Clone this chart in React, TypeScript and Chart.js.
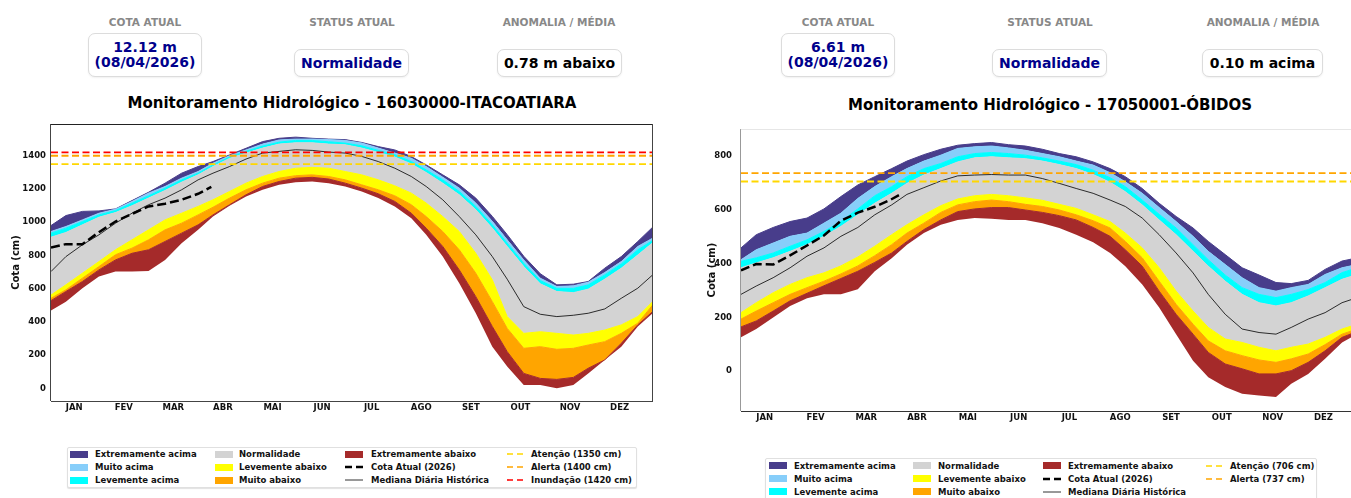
import React, { useEffect, useRef } from 'react';
import { Chart, registerables } from 'chart.js';

Chart.register(...registerables);

const FONT = '"DejaVu Sans", sans-serif';

// ---------- shared axis data ----------
const DAYS = [1, 10, 20, 30, 40, 50, 60, 70, 80, 90, 99, 109, 119, 129, 139, 149, 159, 169, 179, 189, 199, 209, 219, 228, 238, 248, 258, 268, 277, 287, 297, 307, 317, 326, 336, 346, 356, 365];
const MONTHS = ['JAN', 'FEV', 'MAR', 'ABR', 'MAI', 'JUN', 'JUL', 'AGO', 'SET', 'OUT', 'NOV', 'DEZ'];
const MONTH_TICK_DAYS = [15, 45, 75, 105, 135, 165, 195, 225, 255, 285, 315, 345];

// ---------- ITACOATIARA (cm) ----------
const ITA_MAX = [980, 1040, 1065, 1068, 1080, 1130, 1180, 1235, 1295, 1335, 1365, 1405, 1445, 1485, 1505, 1512, 1505, 1500, 1497, 1480, 1455, 1435, 1395, 1345, 1285, 1225, 1145, 1035, 925, 795, 690, 623, 627, 643, 723, 793, 884, 970];
const ITA_MUITO = [944, 974, 1014, 1054, 1078, 1125, 1175, 1215, 1265, 1305, 1355, 1400, 1435, 1470, 1495, 1500, 1500, 1497, 1492, 1476, 1446, 1416, 1385, 1335, 1271, 1205, 1115, 1005, 894, 773, 663, 613, 617, 639, 697, 763, 854, 904];
const ITA_LEVE = [934, 964, 1004, 1044, 1070, 1115, 1159, 1205, 1255, 1295, 1345, 1392, 1426, 1458, 1482, 1492, 1492, 1484, 1476, 1460, 1432, 1406, 1365, 1315, 1255, 1185, 1095, 984, 874, 753, 649, 602, 602, 623, 683, 749, 834, 890];
const ITA_P75 = [910, 938, 984, 1030, 1058, 1099, 1145, 1191, 1241, 1285, 1335, 1384, 1416, 1446, 1470, 1478, 1478, 1470, 1466, 1446, 1420, 1392, 1351, 1299, 1235, 1165, 1075, 964, 854, 733, 629, 583, 576, 597, 657, 723, 803, 876];
const ITA_MEDIAN = [703, 793, 864, 924, 994, 1054, 1105, 1145, 1195, 1255, 1295, 1335, 1380, 1416, 1426, 1436, 1432, 1422, 1416, 1396, 1365, 1325, 1275, 1215, 1135, 1034, 924, 793, 657, 492, 446, 432, 440, 452, 478, 542, 603, 683];
const ITA_P25 = [562, 623, 693, 763, 834, 894, 954, 1014, 1054, 1095, 1135, 1185, 1235, 1275, 1305, 1325, 1330, 1325, 1305, 1285, 1255, 1219, 1175, 1115, 1034, 944, 813, 653, 432, 331, 341, 331, 321, 331, 351, 382, 432, 522];
const ITA_P10 = [542, 593, 663, 733, 804, 844, 894, 954, 994, 1044, 1090, 1145, 1195, 1235, 1265, 1280, 1285, 1275, 1255, 1225, 1195, 1159, 1105, 1034, 944, 834, 693, 522, 361, 241, 251, 235, 241, 261, 281, 331, 392, 502];
const ITA_P5 = [528, 583, 643, 713, 773, 813, 834, 884, 934, 984, 1044, 1105, 1165, 1215, 1245, 1265, 1270, 1260, 1235, 1205, 1171, 1125, 1054, 964, 854, 713, 552, 372, 221, 90, 60, 54, 66, 121, 171, 271, 382, 462];
const ITA_MIN = [468, 522, 603, 673, 703, 703, 707, 773, 874, 954, 1034, 1099, 1155, 1195, 1225, 1241, 1245, 1235, 1215, 1185, 1145, 1095, 1024, 924, 793, 632, 452, 251, 131, 20, 20, 0, 20, 90, 171, 251, 372, 452];
const ITA_CUR_DAYS = [1, 10, 20, 30, 40, 50, 60, 70, 80, 90, 98];
const ITA_CUR = [848, 868, 868, 940, 1004, 1050, 1095, 1111, 1135, 1171, 1212];
const ITA_Y_TICKS = [0, 200, 400, 600, 800, 1000, 1200, 1400];

// ---------- ÓBIDOS (cm) ----------
const OBI_MAX = [459, 508, 535, 557, 570, 604, 650, 693, 724, 754, 782, 806, 826, 841, 847, 851, 843, 838, 826, 810, 798, 779, 754, 724, 680, 625, 576, 533, 483, 434, 385, 358, 330, 326, 338, 379, 410, 422];
const OBI_MUITO = [415, 452, 477, 502, 514, 551, 588, 643, 687, 724, 754, 782, 804, 829, 835, 838, 831, 822, 810, 798, 782, 767, 739, 705, 662, 609, 557, 502, 446, 397, 348, 311, 298, 311, 323, 360, 385, 397];
const OBI_LEVE = [409, 422, 440, 465, 489, 520, 557, 604, 653, 687, 724, 754, 773, 798, 810, 814, 810, 804, 794, 782, 769, 748, 720, 687, 637, 584, 533, 471, 415, 358, 311, 286, 274, 286, 304, 330, 367, 385];
const OBI_P75 = [385, 403, 422, 446, 471, 502, 539, 582, 625, 662, 699, 730, 754, 779, 794, 798, 794, 791, 782, 769, 754, 732, 703, 668, 619, 563, 508, 446, 391, 335, 286, 255, 243, 255, 280, 311, 342, 360];
const OBI_MEDIAN = [286, 317, 348, 385, 428, 459, 502, 535, 582, 619, 658, 683, 708, 727, 730, 732, 730, 730, 717, 699, 680, 662, 637, 613, 570, 508, 440, 366, 286, 212, 157, 144, 138, 163, 194, 218, 255, 274];
const OBI_P25 = [218, 255, 292, 323, 348, 366, 392, 425, 465, 508, 545, 582, 616, 641, 653, 658, 653, 645, 636, 621, 606, 582, 557, 514, 459, 385, 298, 224, 163, 120, 107, 89, 76, 89, 101, 126, 157, 175];
const OBI_P10 = [194, 224, 255, 286, 311, 335, 362, 392, 430, 471, 514, 551, 591, 619, 631, 637, 631, 621, 613, 600, 582, 560, 533, 483, 422, 335, 249, 175, 113, 76, 58, 42, 33, 46, 64, 99, 138, 157];
const OBI_P5 = [165, 187, 224, 262, 290, 318, 345, 372, 405, 440, 483, 527, 563, 594, 604, 609, 609, 600, 591, 579, 563, 535, 502, 452, 391, 298, 212, 138, 70, 27, 9, -10, -10, 2, 33, 76, 126, 148];
const OBI_MIN = [126, 157, 200, 243, 272, 286, 286, 305, 372, 420, 471, 514, 545, 563, 570, 567, 563, 563, 551, 533, 508, 480, 440, 391, 323, 237, 138, 39, -22, -59, -84, -90, -96, -47, -10, 46, 107, 138];
const OBI_CUR_DAYS = [1, 10, 20, 30, 40, 50, 60, 70, 80, 89, 96];
const OBI_CUR = [375, 399, 397, 431, 468, 505, 560, 590, 612, 637, 661];
const OBI_Y_TICKS = [0, 200, 400, 600, 800];

const C = {
  extAcima: '#483D8B',
  muitoAcima: '#87CEFA',
  leveAcima: '#00FFFF',
  normal: '#D3D3D3',
  leveAbaixo: '#FFFF00',
  muitoAbaixo: '#FFA500',
  extAbaixo: '#A52A2A',
  atencao: '#FFD700',
  alerta: '#FFA500',
  inundacao: '#FF0000',
};

type Spec = {
  max: number[]; muito: number[]; leve: number[]; p75: number[]; median: number[];
  p25: number[]; p10: number[]; p5: number[]; min: number[];
  curDays: number[]; cur: number[];
  thresholds: { value: number; color: string }[];
  yMin: number; yMax: number; yTicks: number[]; xMax: number;
  yAxisWidth: number; xAxisHeight: number; padTop: number; padRight: number;
  tickPad: number; titlePad: number;
  spines: { top?: string; left?: string; right?: string; bottom?: string };
};

const ITA_SPEC: Spec = {
  max: ITA_MAX, muito: ITA_MUITO, leve: ITA_LEVE, p75: ITA_P75, median: ITA_MEDIAN,
  p25: ITA_P25, p10: ITA_P10, p5: ITA_P5, min: ITA_MIN,
  curDays: ITA_CUR_DAYS, cur: ITA_CUR,
  thresholds: [
    { value: 1420, color: C.inundacao },
    { value: 1400, color: C.alerta },
    { value: 1350, color: C.atencao },
  ],
  yMin: -76, yMax: 1591, yTicks: ITA_Y_TICKS, xMax: 365.2,
  yAxisWidth: 51, xAxisHeight: 29, padTop: 14, padRight: 22,
  tickPad: 5, titlePad: 10,
  spines: { top: '#222', left: '#444', right: '#444', bottom: '#444' },
};

const OBI_SPEC: Spec = {
  max: OBI_MAX, muito: OBI_MUITO, leve: OBI_LEVE, p75: OBI_P75, median: OBI_MEDIAN,
  p25: OBI_P25, p10: OBI_P10, p5: OBI_P5, min: OBI_MIN,
  curDays: OBI_CUR_DAYS, cur: OBI_CUR,
  thresholds: [
    { value: 737, color: C.alerta },
    { value: 706, color: C.atencao },
  ],
  yMin: -148, yMax: 901, yTicks: OBI_Y_TICKS, xMax: 361.3,
  yAxisWidth: 65, xAxisHeight: 24, padTop: 12, padRight: 0,
  tickPad: 9, titlePad: 30,
  spines: { top: '#e6e6e6', left: '#999', bottom: '#333' },
};

function buildChart(canvas: HTMLCanvasElement, s: Spec) {
  const pts = (arr: number[]) => DAYS.map((d, i) => ({ x: d, y: arr[i] }));
  const datasets: any[] = [];
  s.thresholds.forEach((t) => {
    datasets.push({
      data: [{ x: 1, y: t.value }, { x: 366, y: t.value }],
      borderColor: t.color, borderWidth: 1.8, borderDash: [7, 3.5],
      pointRadius: 0, fill: false,
    });
  });
  datasets.push({
    data: s.curDays.map((d, i) => ({ x: d, y: s.cur[i] })),
    borderColor: '#000', borderWidth: 2.5, borderDash: [9, 4],
    pointRadius: 0, fill: false,
  });
  datasets.push({
    data: pts(s.median), borderColor: '#000', borderWidth: 0.8,
    pointRadius: 0, fill: false,
  });
  const base = datasets.length;
  const bands = [
    { arr: s.min, color: 'rgba(0,0,0,0)' },
    { arr: s.p5, color: C.extAbaixo },
    { arr: s.p10, color: C.muitoAbaixo },
    { arr: s.p25, color: C.leveAbaixo },
    { arr: s.p75, color: C.normal },
    { arr: s.leve, color: C.leveAcima },
    { arr: s.muito, color: C.muitoAcima },
    { arr: s.max, color: C.extAcima },
  ];
  bands.forEach((b, i) => {
    datasets.push({
      data: pts(b.arr),
      borderColor: b.color,
      borderWidth: i === 0 ? 0 : 1,
      backgroundColor: b.color,
      pointRadius: 0,
      fill: i === 0 ? false : base + i - 1,
    });
  });

  const spinePlugin = {
    id: 'spines',
    afterDraw(chart: any) {
      const { ctx, chartArea } = chart;
      const { left, top, right, bottom } = chartArea;
      ctx.save();
      ctx.lineWidth = 1;
      const line = (x1: number, y1: number, x2: number, y2: number, c?: string) => {
        if (!c) return;
        ctx.strokeStyle = c;
        ctx.beginPath();
        ctx.moveTo(x1, y1);
        ctx.lineTo(x2, y2);
        ctx.stroke();
      };
      line(left, Math.round(top) + 0.5, right, Math.round(top) + 0.5, s.spines.top);
      line(Math.round(left) - 0.5, top, Math.round(left) - 0.5, bottom, s.spines.left);
      line(Math.round(right) - 0.5, top, Math.round(right) - 0.5, bottom, s.spines.right);
      line(left, Math.round(bottom) + 0.5, right, Math.round(bottom) + 0.5, s.spines.bottom);
      ctx.restore();
    },
  };

  const tickFont = { family: FONT, size: 8.5, weight: 'bold' as const };

  return new Chart(canvas, {
    type: 'line',
    data: { datasets },
    options: {
      animation: false,
      responsive: false,
      devicePixelRatio: 1,
      layout: { padding: { top: s.padTop, right: s.padRight, left: 0, bottom: 0 } },
      plugins: { legend: { display: false }, tooltip: { enabled: false } },
      elements: { line: { tension: 0 } },
      scales: {
        x: {
          type: 'linear',
          min: 1,
          max: s.xMax,
          grid: { display: false, drawTicks: false },
          border: { display: false },
          afterBuildTicks: (scale: any) => {
            scale.ticks = MONTH_TICK_DAYS.map((v) => ({ value: v }));
          },
          afterFit: (scale: any) => { scale.height = s.xAxisHeight; },
          ticks: {
            autoSkip: false, maxRotation: 0, minRotation: 0, padding: 2,
            color: '#111', font: tickFont,
            callback: (_v: any, i: number) => MONTHS[i],
          },
        },
        y: {
          type: 'linear',
          min: s.yMin,
          max: s.yMax,
          grid: { display: false, drawTicks: false },
          border: { display: false },
          afterBuildTicks: (scale: any) => {
            scale.ticks = s.yTicks.map((v) => ({ value: v }));
          },
          afterFit: (scale: any) => { scale.width = s.yAxisWidth; },
          ticks: {
            padding: s.tickPad, color: '#111', font: tickFont,
            callback: (v: any) => String(v),
          },
          title: {
            display: true, text: 'Cota (cm)', color: '#111',
            font: { family: FONT, size: 10, weight: 'bold' },
            padding: { top: s.titlePad, bottom: 0 },
          },
        },
      },
    },
    plugins: [spinePlugin],
  } as any);
}

// ---------- HTML parts ----------
function Label({ cx, text }: { cx: number; text: string }) {
  return (
    <div style={{
      position: 'absolute', left: cx - 100, width: 200, top: 16, textAlign: 'center',
      fontSize: 10.5, fontWeight: 'bold', color: '#888', lineHeight: '12px', whiteSpace: 'nowrap',
    }}>{text}</div>
  );
}

function Card({ left, top, width, height, color, lines }: { left: number; top: number; width: number; height: number; color: string; lines: string[] }) {
  return (
    <div style={{
      position: 'absolute', left, top, width, height, boxSizing: 'border-box',
      border: '1px solid #dcdcdc', borderRadius: 7, background: '#fff',
      boxShadow: '0 1px 2px rgba(0,0,0,0.06)',
      display: 'flex', flexDirection: 'column', alignItems: 'center', justifyContent: 'center',
      fontSize: 14, fontWeight: 'bold', color, lineHeight: '15px', whiteSpace: 'nowrap',
    }}>
      {lines.map((l, i) => <div key={i}>{l}</div>)}
    </div>
  );
}

function Title({ cx, cy, text }: { cx: number; cy: number; text: string }) {
  return (
    <div style={{
      position: 'absolute', left: cx - 300, width: 600, top: cy - 9, textAlign: 'center',
      fontSize: 15, fontWeight: 'bold', color: '#000', lineHeight: '18px', whiteSpace: 'nowrap',
    }}>{text}</div>
  );
}

type LegItem = { col: number; row: number; label: string; kind: 'patch' | 'dash' | 'line' | 'thick'; color: string };

function Legend({ box, patchX, textX, rows, items }: {
  box: { left: number; top: number; width: number; height: number };
  patchX: number[]; textX: number[]; rows: number[]; items: LegItem[];
}) {
  return (
    <>
      <div style={{
        position: 'absolute', left: box.left, top: box.top, width: box.width, height: box.height,
        boxSizing: 'border-box', border: '1px solid #e0e0e0', borderRadius: 2, background: '#fff',
        boxShadow: '0 1px 1px rgba(0,0,0,0.12)',
      }} />
      {items.map((it, i) => {
        const px = patchX[it.col];
        const cy = rows[it.row];
        let mark: any;
        if (it.kind === 'patch') {
          mark = <div style={{ position: 'absolute', left: px, top: cy - 3.5, width: 18, height: 7, background: it.color }} />;
        } else {
          const w = 18;
          const sw = it.kind === 'thick' ? 2.5 : it.kind === 'dash' ? 1.6 : 1;
          const dash = it.kind === 'thick' ? '7 4' : it.kind === 'dash' ? '6 4' : undefined;
          mark = (
            <svg style={{ position: 'absolute', left: px, top: cy - 4 }} width={w} height={8}>
              <line x1={0} y1={4} x2={w} y2={4} stroke={it.color} strokeWidth={sw} strokeDasharray={dash} />
            </svg>
          );
        }
        return (
          <React.Fragment key={i}>
            {mark}
            <div style={{
              position: 'absolute', left: textX[it.col], top: cy - 6, lineHeight: '12px',
              fontSize: 8.5, fontWeight: 'bold', color: '#111', whiteSpace: 'nowrap',
            }}>{it.label}</div>
          </React.Fragment>
        );
      })}
    </>
  );
}

const BASE_ITEMS: LegItem[] = [
  { col: 0, row: 0, label: 'Extremamente acima', kind: 'patch', color: C.extAcima },
  { col: 0, row: 1, label: 'Muito acima', kind: 'patch', color: C.muitoAcima },
  { col: 0, row: 2, label: 'Levemente acima', kind: 'patch', color: C.leveAcima },
  { col: 1, row: 0, label: 'Normalidade', kind: 'patch', color: C.normal },
  { col: 1, row: 1, label: 'Levemente abaixo', kind: 'patch', color: C.leveAbaixo },
  { col: 1, row: 2, label: 'Muito abaixo', kind: 'patch', color: C.muitoAbaixo },
  { col: 2, row: 0, label: 'Extremamente abaixo', kind: 'patch', color: C.extAbaixo },
  { col: 2, row: 1, label: 'Cota Atual (2026)', kind: 'thick', color: '#000' },
  { col: 2, row: 2, label: 'Mediana Diária Histórica', kind: 'line', color: '#333' },
];

const ITA_ITEMS: LegItem[] = [
  ...BASE_ITEMS,
  { col: 3, row: 0, label: 'Atenção (1350 cm)', kind: 'dash', color: C.atencao },
  { col: 3, row: 1, label: 'Alerta (1400 cm)', kind: 'dash', color: C.alerta },
  { col: 3, row: 2, label: 'Inundação (1420 cm)', kind: 'dash', color: C.inundacao },
];

const OBI_ITEMS: LegItem[] = [
  ...BASE_ITEMS,
  { col: 3, row: 0, label: 'Atenção (706 cm)', kind: 'dash', color: C.atencao },
  { col: 3, row: 1, label: 'Alerta (737 cm)', kind: 'dash', color: C.alerta },
];

export default function App() {
  const leftRef = useRef<HTMLCanvasElement>(null);
  const rightRef = useRef<HTMLCanvasElement>(null);

  useEffect(() => {
    const c1 = buildChart(leftRef.current as HTMLCanvasElement, ITA_SPEC);
    const c2 = buildChart(rightRef.current as HTMLCanvasElement, OBI_SPEC);
    return () => { c1.destroy(); c2.destroy(); };
  }, []);

  return (
    <div style={{
      position: 'absolute', left: 0, top: 0, width: 1351, height: 498, overflow: 'hidden',
      background: '#fff', fontFamily: FONT,
    }}>
      {/* Left panel header */}
      <Label cx={145} text="COTA ATUAL" />
      <Label cx={352} text="STATUS ATUAL" />
      <Label cx={559} text="ANOMALIA / MÉDIA" />
      <Card left={88} top={33} width={114} height={44} color="#00008B" lines={['12.12 m', '(08/04/2026)']} />
      <Card left={294} top={49} width={115} height={28} color="#00008B" lines={['Normalidade']} />
      <Card left={497} top={49} width={125} height={28} color="#000" lines={['0.78 m abaixo']} />
      <Title cx={352} cy={103} text="Monitoramento Hidrológico - 16030000-ITACOATIARA" />

      {/* Right panel header */}
      <Label cx={838} text="COTA ATUAL" />
      <Label cx={1050} text="STATUS ATUAL" />
      <Label cx={1263} text="ANOMALIA / MÉDIA" />
      <Card left={781} top={33} width={114} height={44} color="#00008B" lines={['6.61 m', '(08/04/2026)']} />
      <Card left={992} top={49} width={115} height={28} color="#00008B" lines={['Normalidade']} />
      <Card left={1202} top={49} width={121} height={28} color="#000" lines={['0.10 m acima']} />
      <Title cx={1050} cy={105} text="Monitoramento Hidrológico - 17050001-ÓBIDOS" />

      <canvas ref={leftRef} width={675} height={320} style={{ position: 'absolute', left: 0, top: 110 }} />
      <canvas ref={rightRef} width={675} height={320} style={{ position: 'absolute', left: 676, top: 115 }} />

      <Legend
        box={{ left: 67, top: 447, width: 570, height: 41 }}
        patchX={[70, 215, 345, 507]}
        textX={[95, 239, 371, 531]}
        rows={[454, 467, 480]}
        items={ITA_ITEMS}
      />
      <Legend
        box={{ left: 765, top: 458, width: 552, height: 50 }}
        patchX={[769, 913, 1043, 1206]}
        textX={[794, 938, 1068, 1230]}
        rows={[465.5, 478.5, 491.5]}
        items={OBI_ITEMS}
      />
    </div>
  );
}
